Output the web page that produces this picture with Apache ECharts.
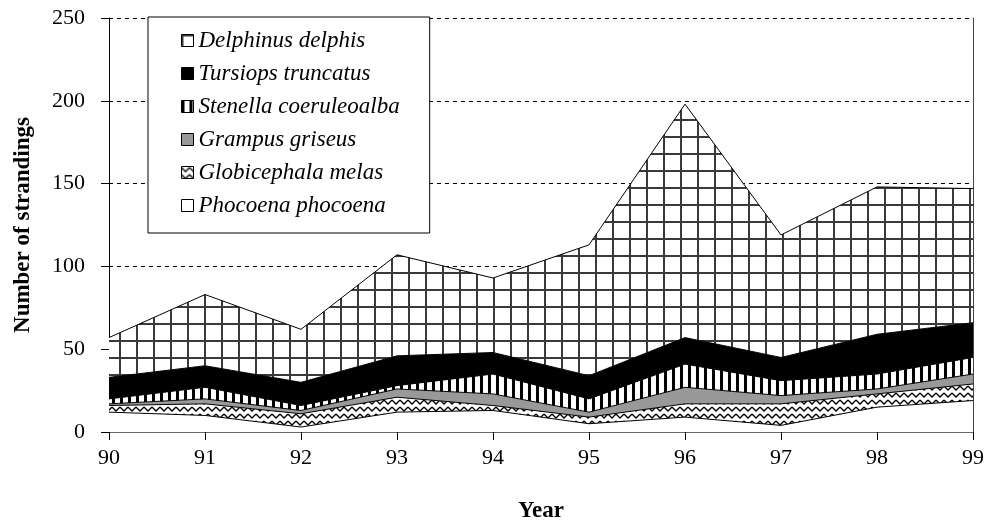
<!DOCTYPE html>
<html>
<head>
<meta charset="utf-8">
<script src="https://cdn.jsdelivr.net/npm/echarts@6.0.0/dist/echarts.min.js"></script>
<style>
  html, body { margin: 0; padding: 0; background: #fff; }
  #main { width: 987px; height: 528px; }
</style>
</head>
<body>
<div id="main"></div>
<script>
// years on the x axis
const years = ['90', '91', '92', '93', '94', '95', '96', '97', '98', '99'];

// strandings per species, bottom of the stack first
const phocoena = [12, 10, 3, 12, 13, 5, 9, 4, 15, 19];
const globicephala = [4, 7, 8, 9, 3, 4, 8, 13, 8, 10];
const grampus = [1, 3, 2, 5, 7, 3, 10, 5, 3, 6];
const stenella = [3, 7, 3, 2, 12, 8, 14, 9, 9, 10];
const tursiops = [13, 13, 14, 18, 13, 14, 16, 14, 24, 21];
const delphinus = [24, 43, 32, 61, 45, 79, 141, 74, 89, 81];

const serif = '"Liberation Serif", "Times New Roman", serif';

// little canvas tiles used as fills
function makePattern(w, h, draw) {
	const c = document.createElement('canvas');
	c.width = w;
	c.height = h;
	const ctx = c.getContext('2d');
	ctx.fillStyle = '#fff';
	ctx.fillRect(0, 0, w, h);
	draw(ctx);
	return { image: c, repeat: 'repeat' };
}

const gridFill = makePattern(17, 17, ctx => {
	ctx.fillStyle = '#3a3a3a';
	ctx.fillRect(0, 0, 2, 17);
	ctx.fillRect(0, 0, 17, 2);
});
const stripeFill = makePattern(8, 8, ctx => {
	ctx.fillStyle = '#000';
	ctx.fillRect(0, 0, 3, 8);
});
const zigzagFill = makePattern(8, 7, ctx => {
	ctx.strokeStyle = '#000';
	ctx.lineWidth = 1.3;
	ctx.beginPath();
	ctx.moveTo(0, 1);
	ctx.lineTo(4, 5);
	ctx.lineTo(8, 1);
	ctx.stroke();
});

const layers = [
	{ name: 'Phocoena phocoena', data: phocoena, fill: '#fff' },
	{ name: 'Globicephala melas', data: globicephala, fill: zigzagFill },
	{ name: 'Grampus griseus', data: grampus, fill: '#999' },
	{ name: 'Stenella coeruleoalba', data: stenella, fill: stripeFill },
	{ name: 'Tursiops truncatus', data: tursiops, fill: '#000' },
	{ name: 'Delphinus delphis', data: delphinus, fill: gridFill },
];

const chart = echarts.init(document.getElementById('main'), null, { renderer: 'canvas' });
chart.setOption({
	animation: false,
	backgroundColor: '#fff',
	grid: { left: 109, right: 14, top: 18, bottom: 94 },
	legend: {
		orient: 'vertical',
		left: 148,
		top: 17,
		padding: [12, 30, 16, 33],
		itemGap: 10,
		itemWidth: 12,
		itemHeight: 12,
		icon: 'rect',
		backgroundColor: '#fff',
		borderColor: '#000',
		borderWidth: 1,
		borderRadius: 0,
		textStyle: { fontFamily: serif, fontStyle: 'italic', fontSize: 23, color: '#000' },
		data: layers.slice().reverse().map(l => ({
			name: l.name,
			itemStyle: { color: l.fill, borderColor: '#000', borderWidth: 1 },
		})),
	},
	xAxis: [{
		type: 'category',
		data: years,
		boundaryGap: false,
		name: 'Year',
		nameLocation: 'middle',
		nameGap: 68,
		nameTextStyle: { fontFamily: serif, fontWeight: 'bold', fontSize: 23, color: '#000' },
		axisLine: { lineStyle: { color: '#000', width: 1 } },
		axisTick: { length: 8, lineStyle: { color: '#000' } },
		axisLabel: { fontFamily: serif, fontSize: 22, color: '#000', margin: 15 },
		splitLine: { show: false },
	}, {
		type: 'category',
		data: years,
		boundaryGap: false,
		position: 'top',
		axisLine: { lineStyle: { color: '#666', width: 1 } },
		axisTick: { show: false },
		axisLabel: { show: false },
	}],
	yAxis: [{
		type: 'value',
		min: 0,
		max: 250,
		interval: 50,
		name: 'Number of strandings',
		nameLocation: 'middle',
		nameGap: 74,
		nameTextStyle: { fontFamily: serif, fontWeight: 'bold', fontSize: 23, color: '#000' },
		axisLine: { show: true, lineStyle: { color: '#000', width: 1 } },
		axisTick: { show: true, length: 8, lineStyle: { color: '#000' } },
		axisLabel: { fontFamily: serif, fontSize: 22, color: '#000', margin: 24 },
		splitLine: { show: true, lineStyle: { color: '#000', type: [4, 4], width: 1 } },
	}, {
		type: 'value',
		min: 0,
		max: 250,
		position: 'right',
		axisLine: { show: true, lineStyle: { color: '#444', width: 1 } },
		axisTick: { show: false },
		axisLabel: { show: false },
		splitLine: { show: false },
	}],
	series: layers.map(l => ({
		name: l.name,
		type: 'line',
		stack: 'total',
		data: l.data,
		symbol: 'none',
		showSymbol: false,
		itemStyle: { color: l.fill },
		lineStyle: { color: '#000', width: 1 },
		areaStyle: { color: l.fill, opacity: 1 },
	})),
});
</script>
</body>
</html>
